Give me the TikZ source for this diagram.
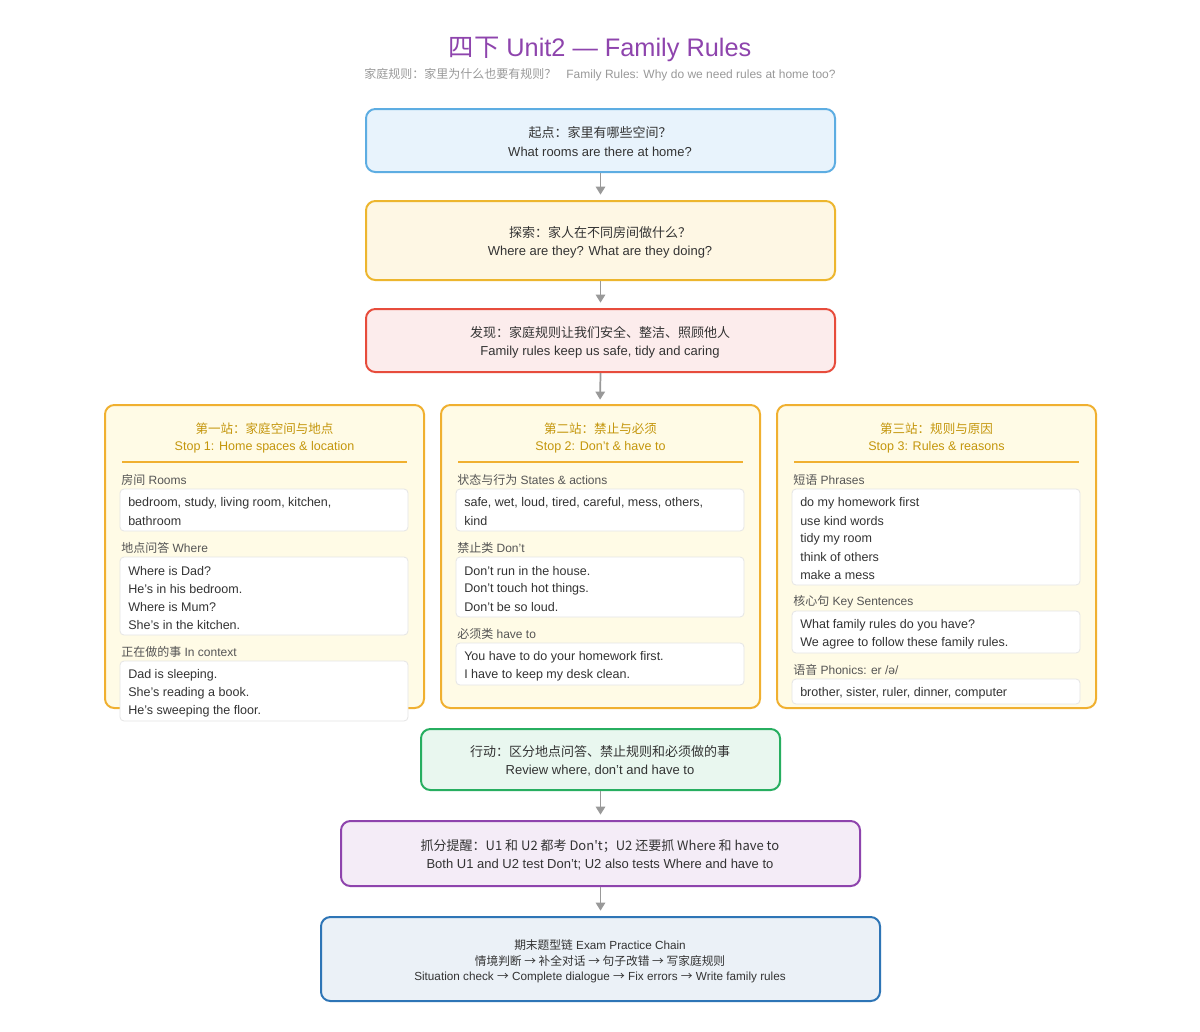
\documentclass[tikz,border=0pt]{standalone}
\usepackage{fontspec}
\setmainfont{Liberation Sans}
\newfontfamily\cj{Noto Sans CJK SC}
\usetikzlibrary{fit,arrows.meta}
\definecolor{ttl}{HTML}{8E44AD}
\definecolor{sub}{HTML}{999999}
\definecolor{txt}{HTML}{333333}
\definecolor{lbl}{HTML}{555555}
\definecolor{hd}{HTML}{C4960C}
\definecolor{stopbd}{HTML}{F0B030}
\definecolor{stopfl}{HTML}{FFFBE6}
\definecolor{bluebd}{HTML}{5DADE2}\definecolor{bluefl}{HTML}{E8F3FC}
\definecolor{yelbd}{HTML}{EDB62E}\definecolor{yelfl}{HTML}{FEF7E4}
\definecolor{redbd}{HTML}{E74C3C}\definecolor{redfl}{HTML}{FCECEC}
\definecolor{grnbd}{HTML}{27AE60}\definecolor{grnfl}{HTML}{E9F7EF}
\definecolor{purbd}{HTML}{8E44AD}\definecolor{purfl}{HTML}{F4ECF7}
\definecolor{dbbd}{HTML}{2E75B6}\definecolor{dbfl}{HTML}{EBF1F7}
\tikzset{
 x=0.75pt,y=-0.75pt,
 bx/.style={draw,line width=1.5pt,rounded corners=7pt,inner sep=0pt},
 stopbox/.style={bx,draw=stopbd,fill=stopfl},
 inbx/.style={draw=black!10,fill=white,line width=0.6pt,rounded corners=3pt,inner sep=0pt},
 ctext/.style={inner sep=0pt,text=txt,font=\fontsize{9.75}{11}\selectfont},
 stext/.style={inner sep=0pt,text=txt,font=\fontsize{8.8}{11}\selectfont},
 ltext/.style={inner sep=0pt,anchor=west,text=txt,font=\fontsize{9.4}{11}\selectfont},
 lab/.style={inner sep=0pt,anchor=west,text=lbl,font=\fontsize{9}{11}\selectfont},
 head/.style={inner sep=0pt,text=hd,font=\fontsize{9.4}{11}\selectfont},
 arr/.style={draw=black!40,line width=1.3pt,-{Triangle[length=6pt,width=7pt]},shorten >=4pt},
}
\begin{document}
\begin{tikzpicture}
\path[use as bounding box,fill=white] (0,0) rectangle (1200,1032);
% title
\node[inner sep=0pt,text=ttl,font=\fontsize{19}{22}\selectfont] (title) at (600,49) {{\cj 四下} Unit2 — Family Rules};
\node[inner sep=0pt,text=sub,font=\fontsize{9}{11}\selectfont] (subt) at (600,75) {{\cj 家庭规则：家里为什么也要有规则？}\ \ \ Family Rules: Why do we need rules at home too?};
% main boxes
\node[bx,draw=bluebd,fill=bluefl,fit={(366,109)(835,172)}] (b1) {};
\node[ctext] (b1a) at (600,133) {\cj 起点：家里有哪些空间？};
\node[ctext] (b1b) at (600,152) {What rooms are there at home?};
\node[bx,draw=yelbd,fill=yelfl,fit={(366,201)(835,280)}] (b2) {};
\node[ctext] (b2a) at (600,233) {\cj 探索：家人在不同房间做什么？};
\node[ctext] (b2b) at (600,252) {Where are they? What are they doing?};
\node[bx,draw=redbd,fill=redfl,fit={(366,309)(835,372)}] (b3) {};
\node[ctext] (b3a) at (600,333) {\cj 发现：家庭规则让我们安全、整洁、照顾他人};
\node[ctext] (b3b) at (600,352) {Family rules keep us safe, tidy and caring};
\coordinate (stopsTop) at (600,405);
\draw[arr] (b1.south) -- (b2.north);
\draw[arr] (b2.south) -- (b3.north);
\draw[arr] (b3.south) -- (stopsTop);
% stop 1
\node[stopbox,fit={(105,405)(424,708)}] (s1) {};
\node[head] (s1h1) at (264.5,429) {\cj 第一站：家庭空间与地点};
\node[head] (s1h2) at (264.5,447) {Stop 1: Home spaces \& location};
\draw[stopbd,line width=0.8pt] (122,462) -- (407,462);
\node[lab] (s1l1) at (121,480) {{\cj 房间} Rooms};
\node[inbx,fit={(120,489)(408,531)}] (s1b1) {};
\node[ltext] at (128,503) {bedroom, study, living room, kitchen,};
\node[ltext] at (128,521) {bathroom};
\node[lab] (s1l2) at (121,548) {{\cj 地点问答} Where};
\node[inbx,fit={(120,557)(408,635)}] (s1b2) {};
\node[ltext] at (128,571) {Where is Dad?};
\node[ltext] at (128,589) {He's in his bedroom.};
\node[ltext] at (128,607) {Where is Mum?};
\node[ltext] at (128,625) {She's in the kitchen.};
\node[lab] (s1l3) at (121,652) {{\cj 正在做的事} In context};
\node[inbx,fit={(120,661)(408,721)}] (s1b3) {};
\node[ltext] at (128,675) {Dad is sleeping.};
\node[ltext] at (128,693) {She's reading a book.};
\node[ltext] at (128,711) {He's sweeping the floor.};
% stop 2
\node[stopbox,fit={(441,405)(760,708)}] (s2) {};
\node[head] (s2h1) at (600.5,429) {\cj 第二站：禁止与必须};
\node[head] (s2h2) at (600.5,447) {Stop 2: Don't \& have to};
\draw[stopbd,line width=0.8pt] (458,462) -- (743,462);
\node[lab] (s2l1) at (457,480) {{\cj 状态与行为} States \& actions};
\node[inbx,fit={(456,489)(744,531)}] (s2b1) {};
\node[ltext] at (464,503) {safe, wet, loud, tired, careful, mess, others,};
\node[ltext] at (464,521) {kind};
\node[lab] (s2l2) at (457,548) {{\cj 禁止类} Don't};
\node[inbx,fit={(456,557)(744,617)}] (s2b2) {};
\node[ltext] at (464,571) {Don't run in the house.};
\node[ltext] at (464,589) {Don't touch hot things.};
\node[ltext] at (464,607) {Don't be so loud.};
\node[lab] (s2l3) at (457,634) {{\cj 必须类} have to};
\node[inbx,fit={(456,643)(744,685)}] (s2b3) {};
\node[ltext] at (464,657) {You have to do your homework first.};
\node[ltext] at (464,675) {I have to keep my desk clean.};
% stop 3
\node[stopbox,fit={(777,405)(1096,708)}] (s3) {};
\node[head] (s3h1) at (936.5,429) {\cj 第三站：规则与原因};
\node[head] (s3h2) at (936.5,447) {Stop 3: Rules \& reasons};
\draw[stopbd,line width=0.8pt] (794,462) -- (1079,462);
\node[lab] (s3l1) at (793,480) {{\cj 短语} Phrases};
\node[inbx,fit={(792,489)(1080,585)}] (s3b1) {};
\node[ltext] at (800,503) {do my homework first};
\node[ltext] at (800,521) {use kind words};
\node[ltext] at (800,539) {tidy my room};
\node[ltext] at (800,557) {think of others};
\node[ltext] at (800,575) {make a mess};
\node[lab] (s3l2) at (793,602) {{\cj 核心句} Key Sentences};
\node[inbx,fit={(792,611)(1080,653)}] (s3b2) {};
\node[ltext] at (800,625) {What family rules do you have?};
\node[ltext] at (800,643) {We agree to follow these family rules.};
\node[lab] (s3l3) at (793,670) {{\cj 语音} Phonics: er /ə/};
\node[inbx,fit={(792,679)(1080,704)}] (s3b3) {};
\node[ltext] at (800,693) {brother, sister, ruler, dinner, computer};
% lower boxes
\node[bx,draw=grnbd,fill=grnfl,fit={(421,729)(780,790)}] (b4) {};
\node[ctext] (b4a) at (600,752) {\cj 行动：区分地点问答、禁止规则和必须做的事};
\node[ctext] (b4b) at (600,771) {Review where, don't and have to};
\node[bx,draw=purbd,fill=purfl,fit={(341,821)(860,886)}] (b5) {};
\node[ctext] (b5a) at (600,846) {\cj 抓分提醒：U1 和 U2 都考 Don't；U2 还要抓 Where 和 have to};
\node[ctext] (b5b) at (600,865) {Both U1 and U2 test Don't; U2 also tests Where and have to};
\node[bx,draw=dbbd,fill=dbfl,fit={(321,917)(880,1001)}] (b6) {};
\node[stext] (b6a) at (600,945) {{\cj 期末题型链} Exam Practice Chain};
\node[stext] (b6b) at (600,961) {\cj 情境判断 → 补全对话 → 句子改错 → 写家庭规则};
\node[stext] (b6c) at (600,977) {Situation check {\cj →} Complete dialogue {\cj →} Fix errors {\cj →} Write family rules};
\draw[arr] (b4.south) -- (b5.north);
\draw[arr] (b5.south) -- (b6.north);
\end{tikzpicture}
\end{document}
